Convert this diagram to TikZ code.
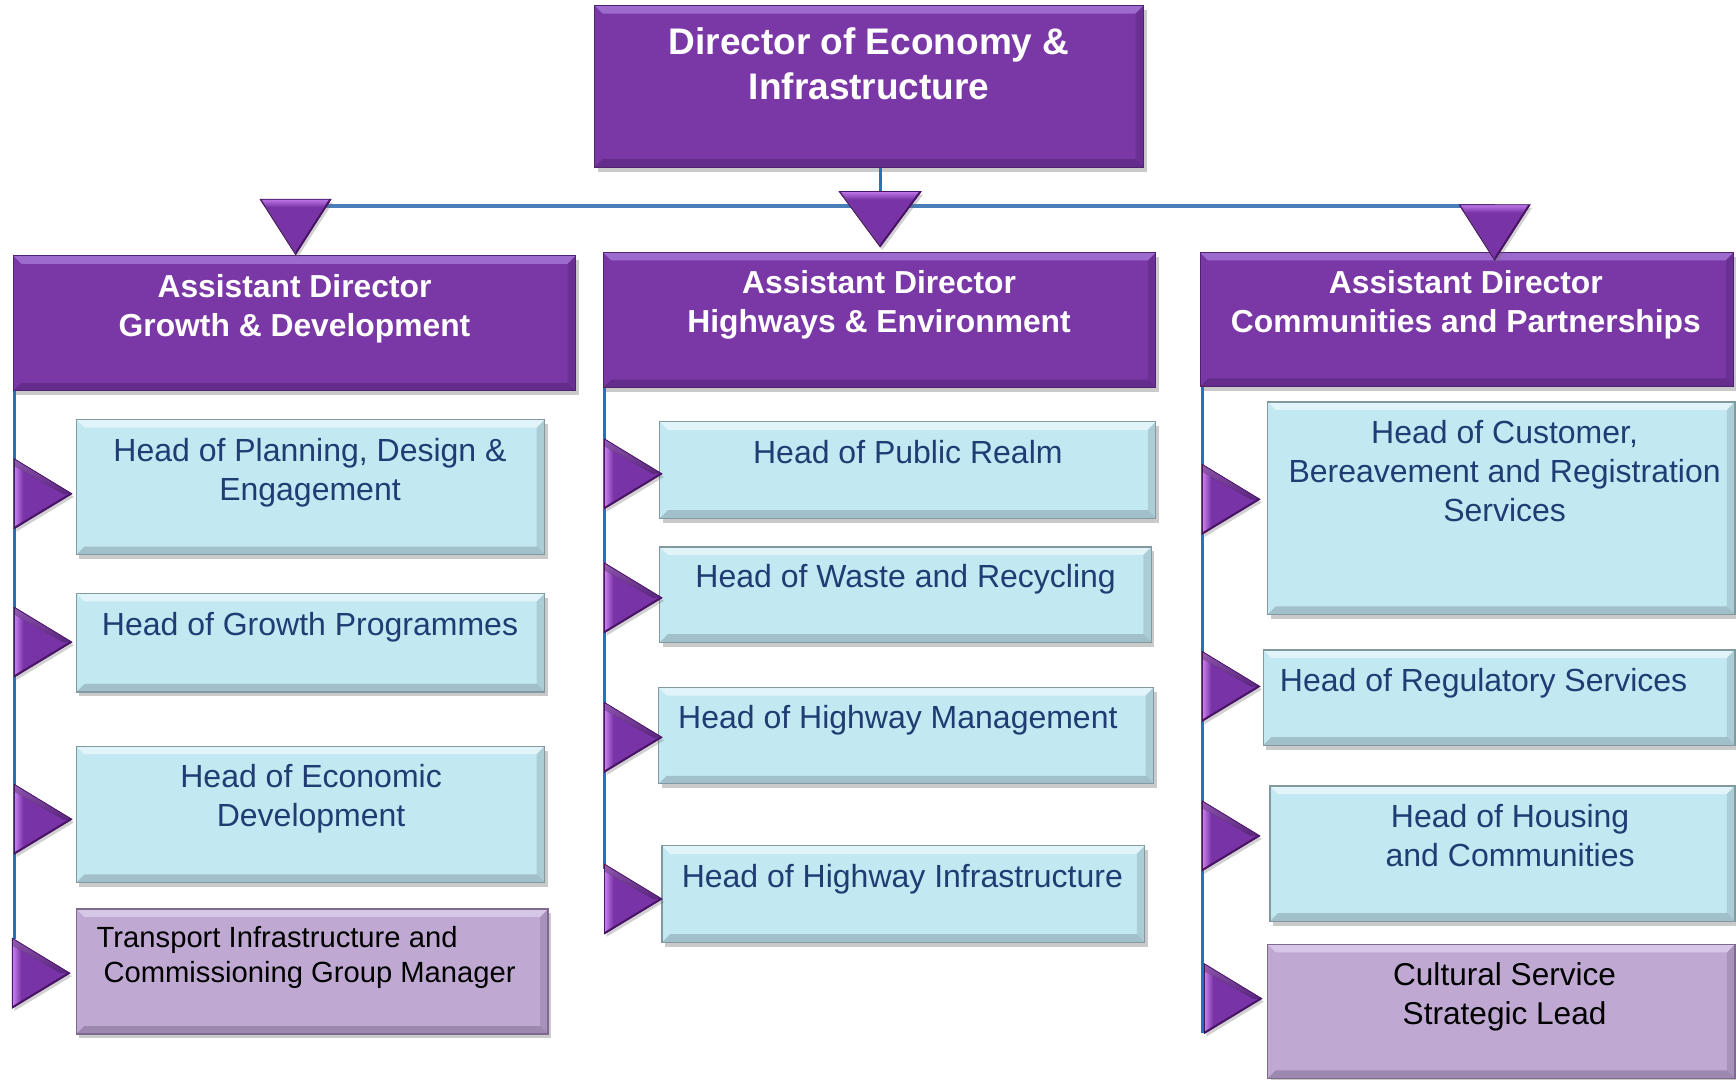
\documentclass[tikz,border=0pt]{standalone}
\usepackage{fontspec}
\setmainfont{Liberation Sans}
\usetikzlibrary{fit,shadows}
\definecolor{pD}{HTML}{7A38A6}
\definecolor{pDb}{HTML}{4F2272}
\definecolor{pDl}{HTML}{A474D4}
\definecolor{lb}{HTML}{C2E9F2}
\definecolor{lbb}{HTML}{8299A2}
\definecolor{lbl}{HTML}{E6F7FB}
\definecolor{lp}{HTML}{BFA9D3}
\definecolor{lpb}{HTML}{7D6A8E}
\definecolor{lpl}{HTML}{DCCDEA}
\definecolor{tb}{HTML}{1F3D73}
\definecolor{spinec}{HTML}{1E74C4}
\definecolor{hlc}{HTML}{4A7EBB}
\definecolor{triL}{HTML}{C980F2}
\definecolor{triM}{HTML}{7834A6}
\definecolor{triD}{HTML}{4A1466}
\begin{document}
\begin{tikzpicture}[x=0.5536pt,y=-0.5536pt,
  bevel/.style 2 args={path picture={
    \fill[#1,opacity=0.85] (path picture bounding box.north west) -- (path picture bounding box.north east)
      -- ([xshift=-4pt,yshift=-4pt]path picture bounding box.north east)
      -- ([xshift=4pt,yshift=-4pt]path picture bounding box.north west) -- cycle;
    \fill[#2,opacity=0.5] (path picture bounding box.south west) -- (path picture bounding box.south east)
      -- ([xshift=-4pt,yshift=4pt]path picture bounding box.south east)
      -- ([xshift=4pt,yshift=4pt]path picture bounding box.south west) -- cycle;
    \fill[#2,opacity=0.35] (path picture bounding box.north east) -- (path picture bounding box.south east)
      -- ([xshift=-4pt,yshift=4pt]path picture bounding box.south east)
      -- ([xshift=-4pt,yshift=-4pt]path picture bounding box.north east) -- cycle;
  }},
  shad/.style={drop shadow={shadow xshift=1.5pt,shadow yshift=-2.2pt,opacity=0.35,fill=black!60}},
  box/.style={inner sep=0pt,line width=0.6pt,shad},
  adbox/.style={box,fill=pD,draw=pDb,bevel={pDl}{pDb}},
  hbox/.style={box,fill=lb,draw=lbb,bevel={lbl}{lbb}},
  pbox/.style={box,fill=lp,draw=lpb,bevel={lpl}{lpb}},
  dirtxt/.style={text=white,font=\bfseries\fontsize{18.5}{22.7}\selectfont,align=center,inner sep=0pt,anchor=north},
  wtxt/.style={text=white,font=\bfseries\fontsize{15.9}{19.4}\selectfont,align=center,inner sep=0pt,anchor=north},
  btxt/.style={text=tb,font=\fontsize{16}{19.4}\selectfont,align=center,inner sep=0pt,anchor=north},
  ktxt/.style={text=black,font=\fontsize{14.6}{17.7}\selectfont,align=left,inner sep=0pt,anchor=north west},
  ctxt/.style={text=black,font=\fontsize{15.8}{19.4}\selectfont,align=center,inner sep=0pt,anchor=north},
  spineline/.style={draw=spinec,line width=1.6pt},
  hline/.style={draw=hlc,line width=1.6pt},
  trishadow/.style={drop shadow={shadow xshift=1pt,shadow yshift=-1.5pt,opacity=0.3,fill=black!60}},
  rtri/.pic={
    \path[fill=triM,trishadow] (0,-31.5) -- (52,0) -- (0,31.5) -- cycle;
    \begin{scope}
      \clip (0,-31.5) -- (52,0) -- (0,31.5) -- cycle;
      \fill[left color=triL,right color=triM] (0,-32) rectangle (8,32);
      \draw[triD,line width=1.6pt] (0,31.5) -- (52,0);
      \fill[top color=triL,bottom color=triM,opacity=0.6] (0,-32) -- (52,0) -- (44,0) -- (0,-25) -- cycle;
    \end{scope}
    \draw[triD,line width=0.4pt] (0,-31.5) -- (52,0) -- (0,31.5) -- cycle;
  },
  dtri/.pic={
    \path[fill=triM,trishadow] (0,0) -- (-#1,-50) -- (#1,-50) -- cycle;
    \begin{scope}
      \clip (0,0) -- (-#1,-50) -- (#1,-50) -- cycle;
      \fill[top color=triL,bottom color=triM] (-#1,-51) rectangle (#1,-43);
      \draw[triD,line width=1.6pt] (0,0) -- (#1,-50);
      \draw[triD!80,line width=1.2pt] (0,0) -- (-#1,-50);
    \end{scope}
    \draw[triD,line width=0.4pt] (0,0) -- (-#1,-50) -- (#1,-50) -- cycle;
  }
]
\useasboundingbox (0,0) rectangle (1568,975);
\clip (0,0) rectangle (1568,975);

% connector anchor points
\coordinate (hl) at (267,186);
\coordinate (hm) at (795,186);
\coordinate (hr) at (1350,186);
\coordinate (sle) at (13,848);
\coordinate (sme) at (546,785);
\coordinate (sre) at (1086,933);

% boxes
\node[adbox,fit={(537,5) (1033,151)}] (dir) {};
\node[adbox,fit={(12,231) (520,353)}] (ad1) {};
\node[adbox,fit={(545,228) (1044,350)}] (ad2) {};
\node[adbox,fit={(1084,228) (1566,349)}] (ad3) {};

\node[hbox,fit={(69,379) (492,501)}] (l1) {};
\node[hbox,fit={(69,536) (492,625)}] (l2) {};
\node[hbox,fit={(69,674) (492,797)}] (l3) {};
\node[pbox,fit={(69,821) (495,934)}] (l4) {};

\node[hbox,fit={(596,381) (1044,468)}] (m1) {};
\node[hbox,fit={(596,494) (1040,580)}] (m2) {};
\node[hbox,fit={(595,621) (1042,708)}] (m3) {};
\node[hbox,fit={(598,764) (1034,851)}] (m4) {};

\node[hbox,fit={(1145,363) (1567,555)}] (r1) {};
\node[hbox,fit={(1141,587) (1567,673)}] (r2) {};
\node[hbox,fit={(1147,710) (1567,832)}] (r3) {};
\node[pbox,fit={(1145,853) (1567,974)}] (r4) {};

% lines
\draw[spineline] (dir.south -| hm) -- (hm);
\draw[hline] (hl) -- (hr);
\draw[spineline] (ad1.south -| sle) -- (sle);
\draw[spineline] (ad2.south -| sme) -- (sme);
\draw[spineline] (ad3.south -| sre) -- (sre);

% down triangles (tips on the assistant director boxes)
\pic at (hl |- 0,230) {dtri=32};
\pic at (hm |- 0,223) {dtri=37};
\pic at (hr |- 0,235) {dtri=32};

% right triangles (bases on the spines)
\pic at (sle |- 0,446) {rtri};
\pic at (sle |- 0,580) {rtri};
\pic at (sle |- 0,740) {rtri};
\pic at ([xshift=-1pt]sle |- 0,879) {rtri};
\pic at (sme |- 0,428) {rtri};
\pic at (sme |- 0,540) {rtri};
\pic at (sme |- 0,666) {rtri};
\pic at (sme |- 0,812) {rtri};
\pic at (sre |- 0,451) {rtri};
\pic at (sre |- 0,620) {rtri};
\pic at (sre |- 0,755) {rtri};
\pic at ([xshift=1pt]sre |- 0,902) {rtri};

% texts
\node[dirtxt] (tdir) at (785,24.6) {Director of Economy \&\\Infrastructure};
\node[wtxt] (tad1) at (266,247.3) {Assistant Director\\Growth \& Development};
\node[wtxt] (tad2) at (794,244.3) {Assistant Director\\Highways \& Environment};
\node[wtxt] (tad3) at (1324,244.3) {Assistant Director\\Communities and Partnerships};

\node[btxt] (tl1) at (280,395.3) {Head of Planning, Design \&\\Engagement};
\node[btxt] (tl2) at (280,552.3) {Head of Growth Programmes};
\node[btxt] (tl3) at (281,690.3) {Head of Economic\\Development};
\node[ktxt] (tl4) at (87,836.3) {Transport Infrastructure and\\\hspace*{3.4pt}Commissioning Group Manager};

\node[btxt] (tm1) at (820,397.3) {Head of Public Realm};
\node[btxt] (tm2) at (818,509.3) {Head of Waste and Recycling};
\node[btxt] (tm3) at (811,636.3) {Head of Highway Management};
\node[btxt] (tm4) at (815,780.3) {Head of Highway Infrastructure};

\node[btxt] (tr1) at (1359,379.3) {Head of Customer,\\Bereavement and Registration\\Services};
\node[btxt] (tr2) at (1340,603.3) {Head of Regulatory Services};
\node[btxt] (tr3) at (1364,726.3) {Head of Housing\\and Communities};
\node[ctxt] (tr4) at (1359,869.4) {Cultural Service\\Strategic Lead};
\end{tikzpicture}
\end{document}
